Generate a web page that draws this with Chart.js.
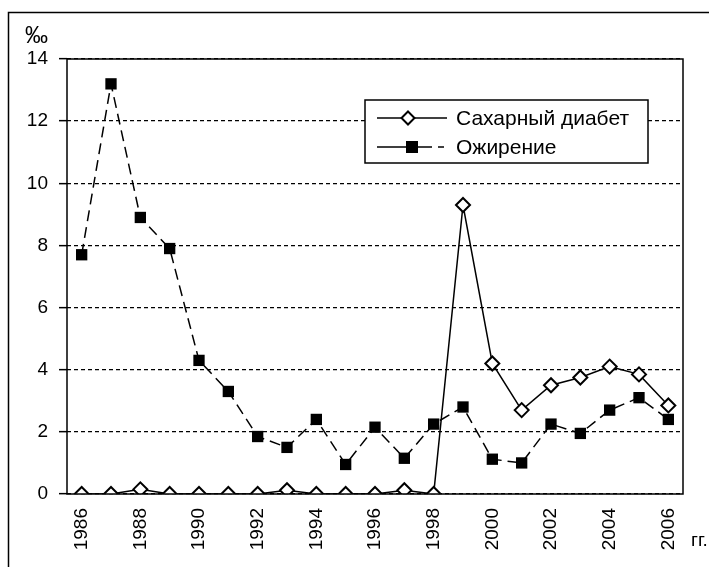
<!DOCTYPE html>
<html>
<head>
<meta charset="utf-8">
<script src="https://cdn.jsdelivr.net/npm/chart.js@4.4.0/dist/chart.umd.min.js"></script>
<style>
  body { margin: 0; background: #fff; }
  canvas { display: block; }
</style>
</head>
<body>
<canvas id="myChart" width="709" height="567"></canvas>
<script>
// data
const years = ['1986', '1987', '1988', '1989', '1990', '1991', '1992', '1993', '1994', '1995', '1996',
  '1997', '1998', '1999', '2000', '2001', '2002', '2003', '2004', '2005', '2006'];
const diabetes = [0, 0, 0.15, 0, 0, 0, 0, 0.12, 0, 0, 0, 0.12, 0, 9.3, 4.2, 2.7, 3.5, 3.75, 4.1, 3.85, 2.85];
const obesity = [7.7, 13.2, 8.9, 7.9, 4.3, 3.3, 1.85, 1.5, 2.4, 0.95, 2.15, 1.15, 2.25, 2.8, 1.12, 1.0, 2.25, 1.95, 2.7, 3.1, 2.4];
const seriesNames = ['Сахарный диабет', 'Ожирение'];
const yTicks = [0, 2, 4, 6, 8, 10, 12, 14];

const FONT = '"Liberation Sans", Arial, sans-serif';

const frame = {
	id: 'frame',
	afterDraw(chart) {
		const ctx = chart.ctx;
		const a = chart.chartArea;
		ctx.save();
		ctx.strokeStyle = '#000';
		ctx.lineWidth = 1.5;
		// plot area frame
		ctx.strokeRect(a.left, a.top, a.right - a.left, a.bottom - a.top);
		// outer border
		ctx.strokeRect(8.5, 12.5, 800, 700);

		ctx.fillStyle = '#000';
		ctx.font = '23px ' + FONT;
		ctx.textBaseline = 'alphabetic';
		ctx.fillText('‰', 25, 43);
		ctx.font = '19px ' + FONT;
		ctx.fillText('гг.', 691, 546);

		// legend
		ctx.fillStyle = '#fff';
		ctx.fillRect(365, 100, 283, 63);
		ctx.strokeRect(365, 100, 283, 63);
		ctx.lineWidth = 1.5;
		ctx.beginPath();
		ctx.moveTo(377, 118); ctx.lineTo(447, 118);
		ctx.stroke();
		ctx.beginPath();
		ctx.moveTo(408, 111.5); ctx.lineTo(414.5, 118); ctx.lineTo(408, 124.5); ctx.lineTo(401.5, 118);
		ctx.closePath();
		ctx.fillStyle = '#fff';
		ctx.fill();
		ctx.lineWidth = 2;
		ctx.stroke();

		ctx.lineWidth = 1.5;
		ctx.beginPath();
		ctx.moveTo(377, 147); ctx.lineTo(432, 147);
		ctx.moveTo(438, 147); ctx.lineTo(444, 147);
		ctx.stroke();
		ctx.fillStyle = '#000';
		ctx.fillRect(406, 141, 12, 12);

		ctx.font = '21px ' + FONT;
		ctx.textBaseline = 'middle';
		ctx.fillText(seriesNames[0], 456, 119);
		ctx.fillText(seriesNames[1], 456, 148);
		ctx.restore();
	}
};

new Chart(document.getElementById('myChart').getContext('2d'), {
	type: 'line',
	data: {
		labels: years,
		datasets: [
			{
				label: seriesNames[1],
				data: obesity,
				borderColor: '#000',
				borderWidth: 1.5,
				borderDash: [11, 6],
				pointStyle: 'rect',
				pointRadius: 8,
				pointBackgroundColor: '#000',
				pointBorderColor: '#000',
				pointBorderWidth: 0,
				tension: 0,
				order: 2
			},
			{
				label: seriesNames[0],
				data: diabetes,
				borderColor: '#000',
				borderWidth: 1.5,
				pointStyle: 'rectRot',
				pointRadius: 7,
				pointBackgroundColor: '#fff',
				pointBorderColor: '#000',
				pointBorderWidth: 2,
				tension: 0,
				order: 1
			}
		]
	},
	options: {
		responsive: false,
		animation: false,
		layout: { padding: { left: 0, top: 59, right: 26, bottom: 0 } },
		plugins: {
			legend: { display: false },
			tooltip: { enabled: false }
		},
		scales: {
			x: {
				type: 'category',
				offset: true,
				grid: { display: false, drawTicks: false },
				border: { display: false },
				ticks: {
					autoSkip: false,
					maxRotation: 90,
					minRotation: 90,
					padding: 14,
					color: '#000',
					font: { family: FONT, size: 19 },
					callback: function (value, index) {
						return index % 2 === 0 ? years[index] : '';
					}
				},
				afterFit: function (scale) { scale.height = 73; }
			},
			y: {
				min: 0,
				max: 14,
				afterBuildTicks: function (scale) {
					scale.ticks = yTicks.map(v => ({ value: v }));
				},
				grid: {
					color: '#000',
					lineWidth: 1.3,
					tickColor: '#000',
					tickLength: 8,
					tickWidth: 1.5,
					tickBorderDash: []
				},
				border: { display: false, dash: [4, 3] },
				ticks: {
					padding: 11,
					color: '#000',
					font: { family: FONT, size: 19 }
				},
				afterFit: function (scale) { scale.width = 67; }
			}
		}
	},
	plugins: [frame]
});
</script>
</body>
</html>
